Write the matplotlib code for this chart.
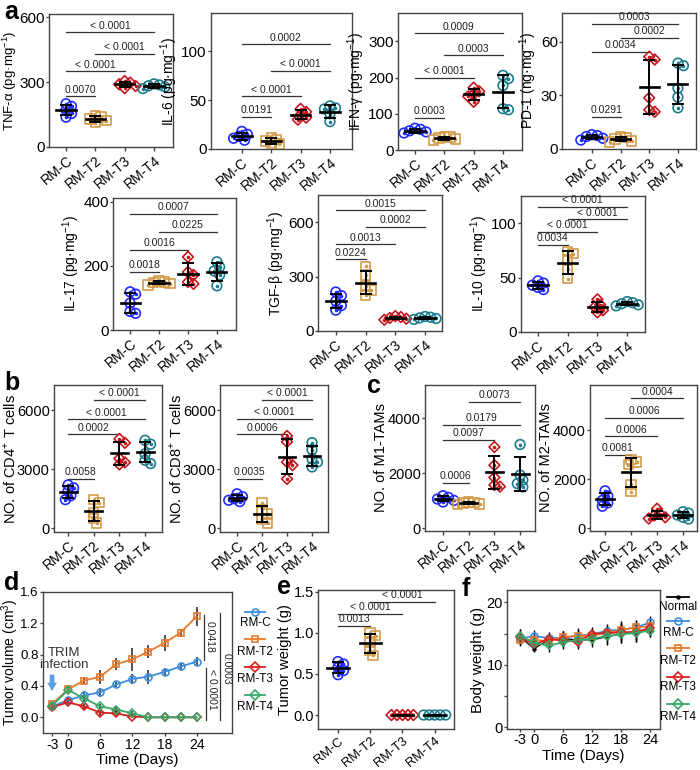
import numpy as np
import matplotlib
matplotlib.use("Agg")
import matplotlib.pyplot as plt

plt.rcParams["font.family"] = ["Liberation Sans", "DejaVu Sans"]
plt.rcParams["mathtext.fontset"] = "custom"
plt.rcParams["mathtext.rm"] = "Liberation Sans"
plt.rcParams["axes.unicode_minus"] = False
plt.rcParams["axes.edgecolor"] = "#444444"
plt.rcParams["axes.linewidth"] = 1.0
plt.rcParams["xtick.color"] = "#444444"
plt.rcParams["ytick.color"] = "#444444"
plt.rcParams["xtick.labelcolor"] = "black"
plt.rcParams["ytick.labelcolor"] = "black"

FW, FH = 700, 770

# ── groups ───────────────────────────────────────────────────────
groups = ["RM-C", "RM-T2", "RM-T3", "RM-T4"]
g_col = ["#1f2bff", "#d29a48", "#c4161c", "#1d7b8c"]
g_mrk = ["o", "s", "D", "o"]
g_size = [48, 46, 30, 48]

# ── panel a ──────────────────────────────────────────────────────
tnf = [[200, 188, 172, 155, 138], [145, 138, 130, 122, 112],
       [305, 298, 290, 282, 272], [292, 287, 283, 278, 270]]
tnf_sig = [(0, 1, 235, "0.0070"), (0, 2, 350, "< 0.0001"),
           (1, 3, 432, "< 0.0001"), (0, 3, 530, "< 0.0001")]
il6 = [[18, 15, 13, 11, 9], [12, 10, 8, 6, 5],
       [41, 38, 35, 32, 30], [44, 42, 41, 36, 28]]
il6_sig = [(0, 1, 33, "0.0191"), (0, 2, 54, "< 0.0001"),
           (1, 3, 80, "< 0.0001"), (0, 3, 107, "0.0002")]
ifn = [[60, 57, 53, 50, 47], [38, 36, 33, 30, 28],
       [172, 162, 155, 148, 133], [206, 197, 178, 114, 111]]
ifn_sig = [(0, 1, 89, "0.0003"), (0, 2, 200, "< 0.0001"),
           (1, 3, 261, "0.0003"), (0, 3, 322, "0.0009")]
pd1 = [[8, 7.5, 7, 6, 5], [7, 6.5, 5.5, 4.5, 4],
       [50, 51.6, 28.6, 21.9, 20.8], [48, 46.6, 34, 29, 23]]
pd1_sig = [(0, 1, 18, "0.0291"), (0, 2, 54.4, "0.0034"),
           (1, 3, 62, "0.0002"), (0, 3, 70, "0.0003")]
il17 = [[119, 112, 84, 58, 52], [153, 150, 148, 145, 141],
        [228, 181, 172, 150, 144], [213, 197, 184, 172, 138]]
il17_sig = [(0, 1, 182, "0.0018"), (0, 2, 250, "0.0016"),
            (1, 3, 306, "0.0225"), (0, 3, 362, "0.0007")]
tgf = [[215, 195, 165, 140, 115], [357, 308, 248, 225, 198],
       [82, 77, 72, 68, 62], [80, 76, 72, 69, 64]]
tgf_sig = [(0, 1, 396, "0.0224"), (0, 2, 478, "0.0013"),
           (1, 3, 574, "0.0002"), (0, 3, 666, "0.0015")]
il10 = [[47, 45, 43, 41, 39], [74, 72, 66, 58, 49],
        [30, 25, 23, 20, 18], [28, 27, 26, 25, 24]]
il10_sig = [(0, 1, 80, "0.0034"), (0, 2, 92, "< 0.0001"),
            (1, 3, 103.6, "< 0.0001"), (0, 3, 115, "< 0.0001")]

# ── panels b, c ──────────────────────────────────────────────────
cd4 = [[2200, 2050, 1900, 1650, 1450], [1450, 1300, 800, 500, 250],
       [4550, 4350, 3550, 3350, 3250], [4480, 4280, 3790, 3460, 3290]]
cd4_sig = [(0, 1, 2520, "0.0058"), (0, 2, 4780, "0.0002"),
           (0, 3, 5550, "< 0.0001"), (1, 3, 6540, "< 0.0001")]
cd8 = [[1750, 1600, 1500, 1420, 1350], [1300, 950, 720, 460, 250],
       [4700, 4400, 3370, 3210, 2510], [4360, 4000, 3540, 3370, 3120]]
cd8_sig = [(0, 1, 2510, "0.0035"), (0, 2, 4780, "0.0006"),
           (0, 3, 5570, "< 0.0001"), (1, 3, 6560, "< 0.0001")]
m1 = [[1180, 1120, 1060, 1010, 950], [960, 940, 910, 880, 860],
      [2950, 2290, 1840, 1570, 1510], [3040, 1930, 1750, 1620, 1500]]
m1_sig = [(0, 1, 1660, "0.0006"), (0, 2, 3220, "0.0097"),
          (0, 3, 3760, "0.0179"), (1, 3, 4580, "0.0073")]
m2 = [[1530, 1320, 1140, 1040, 900], [2800, 2700, 2600, 1800, 1500],
      [800, 600, 520, 450, 400], [680, 620, 540, 450, 380]]
m2_sig = [(0, 1, 2990, "0.0081"), (0, 2, 3750, "0.0006"),
          (0, 3, 4510, "0.0006"), (1, 3, 5300, "0.0004")]

# ── panel e ──────────────────────────────────────────────────────
tw = [[0.65, 0.62, 0.58, 0.54, 0.49], [1.0, 0.965, 0.885, 0.785, 0.725],
      [0, 0, 0, 0, 0], [0, 0, 0, 0, 0]]
tw_sig = [(0, 1, 1.085, "0.0013"), (0, 2, 1.233, "< 0.0001"),
          (1, 3, 1.374, "< 0.0001")]

# ── panel d ──────────────────────────────────────────────────────
days = [-3, 0, 3, 6, 9, 12, 15, 18, 21, 24]
vol = {
    "RM-C": [0.14, 0.22, 0.28, 0.32, 0.42, 0.49, 0.52, 0.58, 0.65, 0.71],
    "RM-T2": [0.17, 0.36, 0.47, 0.52, 0.68, 0.74, 0.84, 0.95, 1.08, 1.29],
    "RM-T3": [0.13, 0.19, 0.14, 0.06, 0.05, 0.01, 0, 0, 0, 0],
    "RM-T4": [0.15, 0.35, 0.24, 0.14, 0.10, 0.05, 0, 0, 0, 0],
}
vol_err = {
    "RM-C": [0.03, 0.04, 0.05, 0.06, 0.03, 0.06, 0.09, 0.05, 0.04, 0.06],
    "RM-T2": [0.03, 0.05, 0.05, 0.09, 0.08, 0.15, 0.08, 0.10, 0.05, 0.12],
    "RM-T3": [0.02, 0.03, 0.03, 0.04, 0.03, 0.02, 0, 0, 0, 0],
    "RM-T4": [0.02, 0.05, 0.04, 0.03, 0.04, 0.03, 0, 0, 0, 0],
}

# ── panel f ──────────────────────────────────────────────────────
bw = {
    "Normal": [14.5, 12.6, 14.0, 14.2, 14.0, 14.0, 14.5, 15.0, 15.2, 15.6],
    "RM-C": [14.2, 14.6, 14.3, 14.3, 14.7, 14.8, 15.5, 15.6, 16.0, 16.8],
    "RM-T2": [14.0, 14.0, 13.8, 14.5, 14.6, 14.7, 15.1, 15.6, 16.0, 16.2],
    "RM-T3": [14.4, 13.3, 14.1, 13.9, 13.7, 15.0, 15.1, 15.2, 15.3, 15.9],
    "RM-T4": [14.7, 13.5, 13.1, 13.6, 14.0, 14.2, 14.6, 14.9, 15.1, 15.5],
}
bw_err = {
    "Normal": [1.2, 0.6, 1.0, 1.2, 1.4, 1.2, 1.3, 1.5, 1.5, 1.2],
    "RM-C": [1.0, 1.0, 1.0, 1.1, 1.2, 1.0, 1.1, 1.4, 1.2, 1.0],
    "RM-T2": [1.0, 1.0, 1.0, 1.0, 1.2, 1.0, 1.2, 1.3, 1.2, 1.2],
    "RM-T3": [1.0, 1.0, 1.0, 1.0, 1.0, 1.0, 1.2, 1.4, 1.4, 1.1],
    "RM-T4": [1.0, 1.0, 1.0, 1.0, 1.0, 1.0, 1.2, 1.4, 1.4, 1.1],
}
line_col = {"Normal": "black", "RM-C": "#3b8ddc", "RM-T2": "#e8792c",
            "RM-T3": "#d92121", "RM-T4": "#38a868"}
line_mrk = {"Normal": ".", "RM-C": "o", "RM-T2": "s", "RM-T3": "D", "RM-T4": "D"}

fig = plt.figure(figsize=(FW / 100, FH / 100), dpi=100)


def px_axes(x0, y0, x1, y1):
    return fig.add_axes([x0 / FW, 1 - y1 / FH, (x1 - x0) / FW, (y1 - y0) / FH])


def swarm(ypx, d=5.5, step=2.75):
    order = np.argsort(-ypx, kind="stable")
    placed, offs = [], np.zeros(len(ypx))
    for i in order:
        for k in (0, 1, -1, 2, -2, 3, -3, 4, -4, 5, -5, 6, -6):
            x = k * step
            if all(np.hypot(x - px, ypx[i] - py) >= d for px, py in placed):
                break
        placed.append((x, ypx[i]))
        offs[i] = x
    return offs


def dot_panel(ax, data, sig, ylabel, yticks, ylim, xlim, ytl=None, ylfs=10,
              ytfs=11, lpad=1, xtfs=10):
    ax.set_xlim(*xlim); ax.set_ylim(*ylim)
    pos = ax.get_position()
    upp = (ylim[1] - ylim[0]) / (pos.height * FH)
    ppc = pos.width * FW / (xlim[1] - xlim[0])
    for i, vals in enumerate(data):
        vals = np.asarray(vals, float)
        xs = i + swarm(vals / upp) / ppc
        ax.scatter(xs, vals, s=g_size[i], marker=g_mrk[i], facecolors="none",
                   edgecolors=g_col[i], linewidths=1.2, zorder=3)
        ax.scatter(xs, vals, s=2.5, color=g_col[i], zorder=3)
        m, sd = vals.mean(), vals.std(ddof=1)
        ax.errorbar(i, m, yerr=sd, fmt="none", ecolor="black", elinewidth=1.4,
                    capsize=4, capthick=1.4, zorder=4)
        ax.plot([i - 0.33, i + 0.33], [m, m], color="black", lw=1.9, zorder=4)
    rng = ylim[1] - ylim[0]
    for a, b, y, lab in sig:
        ax.plot([a, b], [y, y], color="#333333", lw=0.9)
        ax.text((a + b) / 2, y + 0.012 * rng, lab, ha="center", va="bottom",
                fontsize=7.5, color="#222222")
    ax.set_xticks(range(4))
    ax.set_xticklabels(groups, rotation=40, ha="right", rotation_mode="anchor",
                       fontsize=xtfs)
    ax.set_yticks(yticks)
    if ytl is not None:
        ax.set_yticklabels(ytl)
    ax.tick_params(axis="y", labelsize=ytfs, length=2.5, width=1, pad=0.5)
    ax.tick_params(axis="x", length=3, width=1, pad=1.5)
    ax.set_ylabel(ylabel, fontsize=ylfs, labelpad=lpad)


sup = lambda s: r"$^{\mathregular{" + s + "}}$"

# row 1
dot_panel(px_axes(49, 14, 173, 147), tnf, tnf_sig, "TNF-α (pg·mg" + sup("-1") + ")",
          [0, 300, 600], (0, 615), (-0.58, 3.65), ylfs=9.5, lpad=0)
dot_panel(px_axes(211, 13, 352, 149), il6, il6_sig, "IL-6 (pg·mg" + sup("-1") + ")",
          [0, 50, 100], (0, 139), (-1.05, 3.75))
dot_panel(px_axes(398, 13, 522, 150), ifn, ifn_sig, "IFN-γ (pg·mg" + sup("-1") + ")",
          [0, 100, 200, 300], (0, 378), (-0.58, 3.65))
dot_panel(px_axes(562, 13, 696, 149), pd1, pd1_sig, "PD-1 (ng·mg" + sup("-1") + ")",
          [0, 30, 60], (0, 76), (-1.04, 3.63))
# row 2
dot_panel(px_axes(113, 198, 236, 330), il17, il17_sig, "IL-17 (pg·mg" + sup("-1") + ")",
          [0, 200, 400], (0, 412), (-0.59, 3.66))
dot_panel(px_axes(318, 195, 442, 331), tgf, tgf_sig, "TGF-β (pg·mg" + sup("-1") + ")",
          [0, 300, 600], (0, 750), (-0.6, 3.57))
dot_panel(px_axes(521, 196, 645, 332), il10, il10_sig, "IL-10 (pg·mg" + sup("-1") + ")",
          [0, 50, 100], (0, 125), (-0.57, 3.6))
# row 3
dot_panel(px_axes(54, 385, 162, 532), cd4, cd4_sig, "NO. of CD4" + sup("+") + " T cells",
          [0, 3000, 6000], (-200, 7300), (-0.55, 3.66), ylfs=10.5, ytfs=10.5, lpad=-1)
dot_panel(px_axes(220, 385, 328, 532), cd8, cd8_sig, "NO. of CD8" + sup("+") + " T cells",
          [0, 3000, 6000], (-200, 7300), (-0.68, 3.64), ylfs=10.5, ytfs=10.5, lpad=-1)
dot_panel(px_axes(425, 385, 535, 531), m1, m1_sig, "NO. of M1-TAMs",
          [0, 2000, 4000], (-100, 5200), (-0.7, 3.58), ylfs=10.5, ytfs=10.5, lpad=0)
dot_panel(px_axes(590, 385, 697, 531), m2, m2_sig, "NO. of M2-TAMs",
          [0, 2000, 4000], (-110, 5850), (-0.58, 3.54), ylfs=10.5, ytfs=10.5, lpad=0)
# e
dot_panel(px_axes(318, 590, 454, 729), tw, tw_sig, "Tumor weight (g)",
          [0, 0.5, 1.0, 1.5], (-0.17, 1.52), (-0.62, 3.6),
          ytl=["0.0", "0.5", "1.0", "1.5"], ylfs=10.5, ytfs=10.5, xtfs=9.3)

# ── d: tumor volume ──────────────────────────────────────────────
axd = px_axes(43, 592, 232, 733)
for g in groups:
    axd.errorbar(days, vol[g], yerr=vol_err[g], color=line_col[g], marker=line_mrk[g],
                 mfc="none", ms=5 if line_mrk[g] != "D" else 4, mew=1.2, lw=1.3,
                 ecolor="#333333", elinewidth=1.2, capsize=0, zorder=3)
axd.set_xlim(-4.7, 30.6); axd.set_ylim(-0.2, 1.6)
axd.set_xticks([-3, 0, 6, 12, 18, 24])
axd.set_yticks([0, 0.4, 0.8, 1.2, 1.6])
axd.set_yticklabels(["0.0", "0.4", "0.8", "1.2", "1.6"])
axd.tick_params(axis="x", labelsize=10, length=2.5, width=1, pad=1)
axd.tick_params(axis="y", labelsize=9.5, length=2.5, width=1, pad=0.5)
axd.set_xlabel("Time (Days)", fontsize=11, labelpad=1)
axd.set_ylabel("Tumor volume (cm" + sup("3") + ")", fontsize=10, labelpad=-0.3)
axd.text(-0.8, 0.75, "TRIM\ninfection", ha="center", va="center", fontsize=9.5,
         color="#333333", linespacing=1.0)
axd.annotate("", xy=(-3, 0.30), xytext=(-3, 0.58),
             arrowprops=dict(arrowstyle="simple,head_width=0.7,head_length=0.6,tail_width=0.35",
                             color="#5ba3e0", lw=0))
for x, y0, y1, xt, yt, lab in [(25.3, 1.31, 0.73, 26.5, 1.03, "0.0418"),
                               (25.7, 0.63, -0.03, 26.9, 0.36, "< 0.0001"),
                               (28.3, 1.33, -0.03, 29.6, 0.62, "0.0003")]:
    axd.plot([x, x], [y0, y1], color="#333333", lw=0.9)
    axd.text(xt, yt, lab, rotation=270, ha="center", va="center", fontsize=7.5,
             color="#222222")

# ── f: body weight ───────────────────────────────────────────────
axf = px_axes(507, 590, 660, 729)
for g in ["Normal"] + groups:
    axf.errorbar(days, bw[g], yerr=bw_err[g], color=line_col[g], marker=line_mrk[g],
                 mfc="none" if g != "Normal" else "black",
                 ms=5 if line_mrk[g] == "o" or line_mrk[g] == "s" else 4,
                 mew=1.2, lw=1.3 if g != "Normal" else 0.9,
                 ecolor="black", elinewidth=1.0, capsize=0, zorder=3)
axf.set_xlim(-5.6, 26); axf.set_ylim(-0.3, 22)
axf.set_xticks([-3, 0, 6, 12, 18, 24])
axf.set_yticks([0, 10, 20]); axf.set_yticks([5, 15], minor=True)
axf.tick_params(labelsize=10.5, length=2.5, width=1, pad=0.5)
axf.tick_params(which="minor", length=2.5, width=1)
axf.set_xlabel("Time (Days)", fontsize=11, labelpad=1)
axf.set_ylabel("Body weight (g)", fontsize=11, labelpad=1)


# ── legends (handle above label) ─────────────────────────────────
def stacked_legend(x0, x1, names, mk_y, lab_y):
    lg = px_axes(x0, 585, x1, 725)
    lg.set_xlim(0, 1); lg.set_ylim(725, 585); lg.axis("off")
    for n, ym, yl in zip(names, mk_y, lab_y):
        lg.plot([0.25, 0.75], [ym, ym], color=line_col[n], lw=1.3)
        lg.plot([0.5], [ym], marker=line_mrk[n], color=line_col[n],
                mfc="none" if n != "Normal" else "black", ms=5 if n != "Normal" else 4,
                mew=1.2)
        lg.text(0.5, yl, n, ha="center", va="center", fontsize=8.5)


stacked_legend(235, 275, groups, [612, 639, 667, 695], [623, 652, 679, 707])
stacked_legend(656, 700, ["Normal"] + groups, [597, 621, 648, 677, 704],
               [607, 633, 661, 687, 717])

# ── panel letters ────────────────────────────────────────────────
for lab, x, y in [("a", 4, 19), ("b", 4, 390), ("c", 367, 393),
                  ("d", 4, 590), ("e", 277, 594), ("f", 462, 596)]:
    fig.text(x / FW, 1 - y / FH, lab, fontsize=18, fontweight="bold", va="baseline")

fig.savefig("out.png", dpi=100)
